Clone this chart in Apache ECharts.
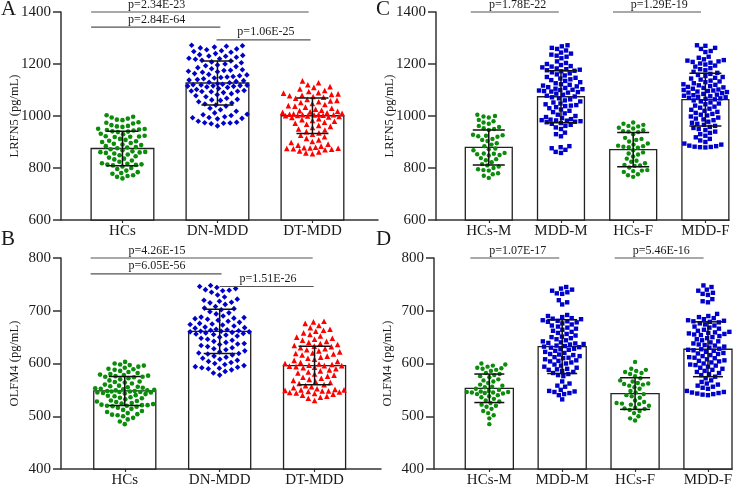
<!DOCTYPE html>
<html><head><meta charset="utf-8">
<script src="https://cdn.jsdelivr.net/npm/echarts@6/dist/echarts.min.js"></script>
<style>html,body{margin:0;padding:0;background:#fff}#c{width:750px;height:485px}</style>
</head><body><div id="c"></div>
<script>
// ---------------- DATA ----------------
const catsAB = ['HCs', 'DN-MDD', 'DT-MDD'];
const catsCD = ['HCs-M', 'MDD-M', 'HCs-F', 'MDD-F'];
const yTitleTop = 'LRFN5 (pg/mL)';
const yTitleBottom = 'OLFM4 (pg/mL)';

// Panel A (LRFN5 by group)
const meansA = [875, 1127, 1001];
const sdA = [66, 85, 68];
const A_HCs = [1003, 997, 994, 990, 986, 984, 976, 974, 971, 965, 962, 960, 958, 951, 950, 948, 946, 944, 941, 940, 938, 932, 930, 924, 922, 921, 919, 920, 912, 908, 905, 903, 900, 896, 893, 890, 888, 884, 881, 879, 876, 872, 868, 864, 862, 861, 860, 858, 856, 852, 849, 845, 840, 836, 833, 829, 824, 818, 816, 814, 813, 812, 810, 806, 800, 796, 790, 784, 781, 778, 772, 769, 766, 760];
const A_DN = [1272, 1270, 1268, 1265, 1262, 1258, 1255, 1251, 1248, 1245, 1240, 1236, 1233, 1231, 1230, 1226, 1222, 1220, 1218, 1214, 1212, 1208, 1205, 1200, 1196, 1193, 1190, 1186, 1182, 1178, 1176, 1175, 1172, 1170, 1168, 1163, 1160, 1158, 1155, 1152, 1150, 1148, 1146, 1143, 1140, 1138, 1136, 1133, 1130, 1128, 1124, 1122, 1120, 1119, 1118, 1117, 1116, 1115, 1114, 1112, 1110, 1106, 1102, 1098, 1096, 1095, 1094, 1093, 1090, 1086, 1082, 1078, 1074, 1068, 1064, 1062, 1060, 1055, 1050, 1046, 1042, 1038, 1030, 1024, 1018, 1012, 1007, 1005, 1002, 997, 994, 993, 991, 989, 980, 976, 974, 973, 972, 970, 962];
const A_DT = [1135, 1128, 1120, 1113, 1110, 1104, 1098, 1094, 1090, 1088, 1085, 1083, 1080, 1078, 1075, 1072, 1068, 1064, 1060, 1058, 1055, 1052, 1048, 1044, 1040, 1038, 1034, 1030, 1026, 1022, 1020, 1018, 1016, 1014, 1012, 1010, 1008, 1007, 1006, 1005, 1005, 1004, 1003, 1002, 1001, 1000, 998, 996, 994, 990, 986, 983, 980, 976, 972, 968, 964, 960, 956, 950, 946, 940, 935, 930, 926, 920, 914, 908, 902, 898, 892, 888, 884, 880, 878, 877, 876, 875, 874, 872, 870, 866, 862, 858, 855];
const pA = ['p=2.34E-23', 'p=2.84E-64', 'p=1.06E-25'];

// Panel B (OLFM4 by group)
const meansB = [548, 661, 596];
const sdB = [27.5, 42, 36.5];
const B_HCs = [603, 600, 598, 597, 596, 594, 592, 590, 589, 588, 586, 584, 582, 580, 579, 578, 577, 576, 575, 575, 574, 572, 570, 568, 566, 565, 564, 562, 560, 558, 557, 556, 555, 554, 553, 552, 551, 550, 549, 549, 548, 548, 547, 547, 546, 546, 545, 545, 544, 543, 542, 540, 539, 538, 536, 535, 534, 532, 530, 529, 528, 527, 525, 524, 523, 522, 521, 521, 520, 520, 519, 518, 516, 514, 512, 510, 508, 506, 504, 503, 502, 500, 497, 494, 490, 485];
const B_DN = [748, 746, 744, 742, 740, 739, 738, 735, 730, 726, 722, 720, 718, 716, 715, 712, 708, 705, 704, 702, 698, 696, 694, 690, 688, 687, 686, 685, 684, 682, 680, 678, 676, 675, 674, 673, 671, 669, 668, 667, 665, 664, 663, 662, 661, 661, 660, 660, 659, 658, 657, 656, 655, 654, 652, 650, 648, 646, 644, 642, 640, 638, 637, 636, 634, 632, 630, 628, 626, 624, 622, 620, 619, 618, 616, 614, 612, 610, 608, 606, 604, 602, 600, 598, 596, 594, 593, 592, 591, 590, 588, 585, 582, 578];
const B_DT = [680, 679, 676, 672, 668, 665, 663, 661, 658, 655, 652, 650, 648, 646, 644, 642, 640, 638, 636, 634, 633, 632, 630, 628, 626, 624, 622, 620, 619, 618, 616, 614, 612, 610, 608, 606, 604, 602, 600, 599, 598, 597, 596, 596, 595, 594, 593, 592, 590, 588, 586, 584, 582, 580, 578, 576, 574, 572, 570, 568, 566, 564, 562, 560, 558, 556, 554, 552, 551, 550, 550, 549, 548, 548, 547, 546, 545, 544, 543, 542, 540, 538, 536, 534, 530];
const pB = ['p=4.26E-15', 'p=6.05E-56', 'p=1.51E-26'];

// Panel C (LRFN5 by sex)
const meansC = [879, 1074, 871, 1063];
const sdC = [67, 100, 66, 101];
const C_HCsM = [1005, 1000, 998, 994, 985, 980, 975, 970, 962, 958, 953, 950, 946, 928, 926, 924, 922, 920, 912, 908, 904, 895, 890, 884, 875, 872, 868, 858, 856, 855, 853, 850, 848, 838, 834, 830, 822, 815, 810, 806, 800, 795, 792, 790, 780, 776, 770, 762];
const C_MDDM = [1272, 1268, 1262, 1258, 1252, 1244, 1240, 1236, 1232, 1228, 1222, 1210, 1204, 1200, 1196, 1192, 1190, 1187, 1183, 1180, 1178, 1176, 1174, 1172, 1168, 1164, 1160, 1156, 1150, 1147, 1144, 1141, 1138, 1135, 1130, 1126, 1122, 1120, 1117, 1114, 1111, 1108, 1105, 1103, 1101, 1100, 1098, 1096, 1094, 1092, 1090, 1086, 1082, 1078, 1075, 1072, 1068, 1064, 1060, 1056, 1052, 1048, 1045, 1042, 1040, 1038, 1034, 1030, 1025, 1020, 1015, 1010, 1005, 1000, 996, 992, 988, 986, 984, 983, 982, 980, 978, 976, 973, 970, 966, 962, 956, 950, 936, 930, 922, 884, 880, 876, 870, 862, 858];
const C_HCsF = [975, 970, 966, 962, 960, 955, 952, 945, 942, 940, 938, 930, 916, 912, 908, 902, 894, 890, 886, 884, 882, 880, 878, 868, 860, 856, 852, 844, 836, 828, 824, 818, 812, 810, 808, 802, 792, 790, 788, 785, 776, 772, 766];
const C_MDDF = [1272, 1270, 1262, 1258, 1250, 1246, 1228, 1224, 1218, 1215, 1213, 1210, 1208, 1205, 1202, 1198, 1194, 1190, 1184, 1180, 1176, 1170, 1166, 1162, 1158, 1154, 1150, 1147, 1144, 1140, 1136, 1133, 1130, 1126, 1122, 1120, 1118, 1115, 1112, 1110, 1108, 1105, 1102, 1100, 1098, 1096, 1094, 1092, 1090, 1088, 1085, 1082, 1080, 1078, 1076, 1074, 1072, 1070, 1068, 1066, 1064, 1060, 1056, 1052, 1048, 1045, 1040, 1036, 1032, 1028, 1024, 1020, 1016, 1012, 1008, 1005, 1002, 998, 994, 990, 987, 984, 978, 974, 970, 966, 962, 958, 954, 950, 946, 940, 935, 930, 924, 918, 912, 906, 900, 894, 890, 886, 884, 882, 881, 880, 879];
const pC = ['p=1.78E-22', 'p=1.29E-19'];

// Panel D (OLFM4 by sex)
const meansD = [553, 632, 543, 627];
const sdD = [27, 51, 30, 52];
const D_HCsM = [600, 598, 596, 594, 592, 591, 590, 588, 586, 582, 580, 578, 576, 574, 570, 568, 566, 563, 560, 558, 556, 555, 552, 550, 548, 547, 546, 546, 545, 545, 544, 543, 542, 540, 538, 536, 533, 530, 528, 525, 522, 520, 518, 514, 510, 506, 502, 496, 485];
const D_MDDM = [745, 742, 740, 738, 735, 733, 732, 720, 716, 712, 692, 690, 688, 686, 685, 684, 682, 681, 680, 679, 678, 676, 674, 672, 670, 668, 666, 664, 662, 660, 658, 656, 653, 651, 650, 648, 646, 644, 642, 640, 639, 638, 637, 636, 634, 633, 632, 631, 630, 628, 627, 626, 624, 622, 620, 618, 617, 616, 614, 612, 611, 610, 608, 606, 605, 604, 602, 600, 598, 596, 594, 592, 590, 589, 588, 586, 584, 582, 580, 578, 576, 566, 562, 558, 556, 550, 548, 547, 546, 544, 542, 540, 532];
const D_HCsF = [603, 590, 588, 586, 584, 582, 580, 576, 572, 568, 566, 563, 562, 561, 560, 558, 555, 552, 548, 545, 542, 540, 538, 535, 530, 527, 525, 524, 523, 522, 520, 516, 515, 514, 512, 510, 506, 500, 496, 492];
const D_MDDF = [748, 745, 740, 738, 734, 732, 730, 722, 718, 716, 694, 690, 688, 686, 684, 682, 681, 680, 679, 678, 676, 674, 672, 670, 668, 666, 664, 662, 660, 659, 658, 657, 656, 655, 654, 652, 650, 648, 646, 644, 642, 640, 638, 636, 635, 634, 632, 630, 628, 627, 626, 625, 624, 622, 620, 619, 618, 616, 614, 612, 611, 610, 608, 606, 605, 604, 602, 600, 598, 597, 596, 594, 592, 590, 588, 586, 584, 582, 580, 578, 575, 572, 568, 565, 562, 560, 558, 556, 554, 552, 548, 546, 545, 544, 543, 542, 541, 540];
const pD = ['p=1.07E-17', 'p=5.46E-16'];

// significance brackets: [from category pos, to category pos, y value, label anchor pos]
const brA = [[-0.33, 1.96, 1400, 0.36], [-0.33, 1.03, 1342, 0.36], [0.99, 1.98, 1293, 1.51]];
const brB = [[-0.36, 1.98, 800, 0.34], [-0.36, 1.02, 770, 0.34], [1.0, 1.99, 746, 1.51]];
const brC = [[-0.25, 0.97, 1400, 0.40], [1.72, 2.94, 1400, 2.36]];
const brD = [[-0.26, 0.96, 800, 0.39], [1.72, 2.94, 800, 2.36]];

// ---------------- STYLE / LAYOUT ----------------
const FONT = '"Liberation Serif","Times New Roman",serif';
const TXT = '#1a1a1a';
const AX = '#333';
const GREEN = '#0b8c0b', BLUE = '#0000cc', RED = '#ff0000';

const panels = [
  { grid: {left: 61, top: 12, width: 317, height: 208}, x: [-0.647, 2.69], y: [600, 1400, 200],
    cats: catsAB, title: yTitleTop, means: meansA, sd: sdA, hw: 0.33, cap: 16, br: brA, pl: pA,
    groups: [[A_HCs, 'circle', 4.6, GREEN], [A_DN, 'diamond', 5.6, BLUE], [A_DT, 'triangle', 5.6, RED]] },
  { grid: {left: 61, top: 258, width: 320, height: 211}, x: [-0.672, 2.70], y: [400, 800, 100],
    cats: catsAB, title: yTitleBottom, means: meansB, sd: sdB, hw: 0.327, cap: 16, br: brB, pl: pB,
    groups: [[B_HCs, 'circle', 4.6, GREEN], [B_DN, 'diamond', 5.6, BLUE], [B_DT, 'triangle', 5.6, RED]] },
  { grid: {left: 436, top: 12, width: 293, height: 208}, x: [-0.731, 3.327], y: [600, 1400, 200],
    cats: catsCD, title: yTitleTop, means: meansC, sd: sdC, hw: 0.325, cap: 16, br: brC, pl: pC,
    groups: [[C_HCsM, 'circle', 4.4, GREEN], [C_MDDM, 'rect', 4.4, BLUE], [C_HCsF, 'circle', 4.4, GREEN], [C_MDDF, 'rect', 4.4, BLUE]] },
  { grid: {left: 434, top: 258, width: 298, height: 211}, x: [-0.759, 3.33], y: [400, 800, 100],
    cats: catsCD, title: yTitleBottom, means: meansD, sd: sdD, hw: 0.33, cap: 15, br: brD, pl: pD,
    groups: [[D_HCsM, 'circle', 4.4, GREEN], [D_MDDM, 'rect', 4.4, BLUE], [D_HCsF, 'circle', 4.4, GREEN], [D_MDDF, 'rect', 4.4, BLUE]] }
];

// Beeswarm layout of horizontal offsets (pixel-space collision avoidance)
function swarmOffsets(vals, pxY, pxX, d, maxPx) {
  const order = vals.map((v, i) => i).sort((a, b) => vals[a] - vals[b]);
  const placed = [];
  const out = new Array(vals.length);
  order.forEach((idx, k) => {
    const y = vals[idx] * pxY;
    const ivs = [];
    for (const q of placed) {
      const dy = Math.abs(q.y - y);
      if (dy < d) { const dx = Math.sqrt(d * d - dy * dy); ivs.push([q.x - dx, q.x + dx]); }
    }
    const free = c => ivs.every(iv => c <= iv[0] + 1e-6 || c >= iv[1] - 1e-6);
    const cands = [0];
    ivs.forEach(iv => cands.push(iv[0], iv[1]));
    const sgn = k % 2 ? 1 : -1;
    cands.sort((a, b) => (Math.abs(a) - Math.abs(b)) || (a - b) * sgn);
    let x = null;
    for (const c of cands) {
      if (Math.abs(c) > maxPx) continue;
      if (free(c)) { x = c; break; }
    }
    if (x === null) {
      let best = -1, bx = 0;
      for (let c = -maxPx; c <= maxPx; c += 0.5) {
        let m = Infinity;
        for (const q of placed) {
          const dy = q.y - y;
          if (Math.abs(dy) < d) { const dist = Math.hypot(q.x - c, dy); if (dist < m) m = dist; }
        }
        if (m > best + 1e-9) { best = m; bx = c; }
      }
      x = bx;
    }
    placed.push({x, y});
    out[idx] = x / pxX;
  });
  return out;
}

const grids = [], xAxes = [], yAxes = [], series = [];
panels.forEach((P, k) => {
  grids.push(Object.assign({outerBoundsMode: 'none', containLabel: false}, P.grid));
  const ticks = P.cats.map((c, i) => i);
  xAxes.push({
    gridIndex: k, type: 'value', min: P.x[0], max: P.x[1],
    axisLine: {show: true, onZero: false, lineStyle: {color: AX, width: 1.5}},
    axisTick: {show: true, customValues: ticks, length: 3, lineStyle: {color: AX, width: 1.2}},
    axisLabel: {show: true, customValues: ticks, formatter: v => P.cats[Math.round(v)], fontFamily: FONT, fontSize: 15, color: TXT, margin: 4},
    splitLine: {show: false}
  });
  yAxes.push({
    gridIndex: k, type: 'value', min: P.y[0], max: P.y[1], interval: P.y[2],
    axisLine: {show: true, onZero: false, lineStyle: {color: AX, width: 1.5}},
    axisTick: {show: true, length: 8, lineStyle: {color: AX, width: 1.5}},
    axisLabel: {fontFamily: FONT, fontSize: 15, color: TXT, margin: 10, formatter: v => String(v)},
    splitLine: {show: false},
    name: P.title, nameLocation: 'middle', nameGap: 40, nameMoveOverlap: false,
    nameTextStyle: {fontFamily: FONT, fontSize: 12.5, color: TXT}
  });
  const pxY = P.grid.height / (P.y[1] - P.y[0]);
  const pxX = P.grid.width / (P.x[1] - P.x[0]);
  const hw = P.hw, yMin = P.y[0];
  // bars
  series.push({
    type: 'custom', xAxisIndex: k, yAxisIndex: k, z: 1, silent: true,
    data: P.means.map((m, i) => [i, m]),
    renderItem: (params, api) => {
      const i = api.value(0), m = api.value(1);
      const p0 = api.coord([i - hw, yMin]), p1 = api.coord([i + hw, m]);
      return {type: 'rect', shape: {x: p0[0], y: p1[1], width: p1[0] - p0[0], height: p0[1] - p1[1]},
        style: {fill: '#fff', stroke: '#222', lineWidth: 1.3}};
    }
  });
  // dots
  P.groups.forEach((g, i) => {
    const vals = g[0];
    const offs = swarmOffsets(vals, pxY, pxX, g[2] + 1.0, hw * pxX - 1.5);
    series.push({
      type: 'scatter', xAxisIndex: k, yAxisIndex: k, z: 2, silent: true,
      symbol: g[1], symbolSize: g[2], itemStyle: {color: g[3], opacity: 1},
      data: vals.map((v, j) => [i + offs[j], v])
    });
  });
  // error bars
  const cap = P.cap;
  series.push({
    type: 'custom', xAxisIndex: k, yAxisIndex: k, z: 3, silent: true,
    data: P.means.map((m, i) => [i, m, P.sd[i]]),
    renderItem: (params, api) => {
      const i = api.value(0), m = api.value(1), s = api.value(2);
      const t = api.coord([i, m + s]), b = api.coord([i, m - s]);
      const st = {stroke: '#111', lineWidth: 1.5};
      return {type: 'group', children: [
        {type: 'line', shape: {x1: t[0], y1: t[1], x2: b[0], y2: b[1]}, style: st},
        {type: 'line', shape: {x1: t[0] - cap, y1: t[1], x2: t[0] + cap, y2: t[1]}, style: st},
        {type: 'line', shape: {x1: b[0] - cap, y1: b[1], x2: b[0] + cap, y2: b[1]}, style: st}
      ]};
    }
  });
  // significance brackets
  series.push({
    type: 'custom', xAxisIndex: k, yAxisIndex: k, z: 4, silent: true, clip: false,
    data: P.br.map(b => [b[0], b[2], b[1], b[3]]),
    renderItem: (params, api) => {
      const a = api.coord([api.value(0), api.value(1)]);
      const c = api.coord([api.value(2), api.value(1)]);
      const tp = api.coord([api.value(3), api.value(1)]);
      return {type: 'group', children: [
        {type: 'line', shape: {x1: a[0], y1: a[1], x2: c[0], y2: c[1]}, style: {stroke: '#555', lineWidth: 1.2}},
        {type: 'text', x: tp[0], y: tp[1] - 1.5, style: {text: P.pl[params.dataIndex], fill: TXT,
          fontFamily: FONT, fontSize: 12, align: 'center', verticalAlign: 'bottom'}}
      ]};
    }
  });
});

const letters = [['A', 1, -1], ['B', 1, 229], ['C', 376, -1], ['D', 376, 229]];
const chart = echarts.init(document.getElementById('c'), null, {renderer: 'canvas'});
chart.setOption({
  animation: false,
  backgroundColor: '#fff',
  grid: grids, xAxis: xAxes, yAxis: yAxes, series: series,
  graphic: letters.map(l => ({type: 'text', left: l[1], top: l[2], z: 10,
    style: {text: l[0], fontFamily: FONT, fontSize: 21, fill: TXT}}))
});
</script>
</body></html>
